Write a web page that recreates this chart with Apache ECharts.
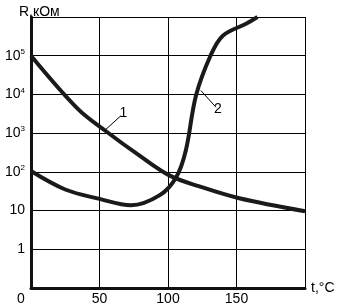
<!DOCTYPE html>
<html><head><meta charset="utf-8">
<script src="https://cdn.jsdelivr.net/npm/echarts@6/dist/echarts.min.js"></script>
<style>html,body{margin:0;padding:0;background:#fff}#c{width:338px;height:308px}</style>
</head><body><div id="c"></div>
<script>
// Curve 1
var t1 = [0, 34, 54, 79, 101, 123, 152, 200];
var r1 = [100000, 4300, 1170, 266, 81, 42, 20.8, 9.6];
// Curve 2
var t2 = [0, 25, 50, 73, 94, 106, 113, 120.4, 131, 140, 157, 165.3];
var r2 = [105, 35, 20, 13.7, 25, 73, 358, 9300, 100000, 330000, 670000, 1000000];
// annotation leaders [t, R]
var lead1 = [[53.7, 1170], [65.8, 2850]];
var lead2 = [[124, 12600], [135, 4670]];
var xTicks = [0, 50, 100, 150, 200];
var yName = 'R,кОм';
var xName = 't,°C';

function pairs(a, b) { return a.map(function (v, i) { return [v, b[i]]; }); }
var FONT = 'Liberation Sans, Arial, sans-serif';
var chart = echarts.init(document.getElementById('c'));
function leader(pts, txt) {
  return {
    silent: true, symbol: 'none', animation: false,
    lineStyle: { color: '#000', width: 1, type: 'solid' },
    label: { show: true, formatter: txt, position: 'end', distance: 3, color: '#000', fontSize: 14, fontFamily: FONT },
    data: [[{ coord: pts[0] }, { coord: pts[1] }]]
  };
}
chart.setOption({
  animation: false,
  title: { text: yName, left: 14, top: 0, textStyle: { fontSize: 14, fontWeight: 'normal', color: '#000', fontFamily: FONT } },
  grid: { left: 31, top: 17, right: 33, bottom: 20 },
  xAxis: {
    type: 'value', min: 0, max: 200, interval: 50,
    name: xName, nameLocation: 'end', nameGap: 6,
    nameTextStyle: { fontSize: 14, color: '#000', fontFamily: FONT, verticalAlign: 'middle', padding: [6, 0, 0, 0] },
    axisLine: { show: true, lineStyle: { color: '#111', width: 3 } },
    axisTick: { show: false },
    axisLabel: {
      color: '#000', fontSize: 14, fontFamily: FONT, margin: 4,
      formatter: function (v) { if (v === 200) return ''; return v === 0 ? '{z|0}' : String(v); },
      rich: { z: { fontSize: 14, fontFamily: FONT, color: '#000', padding: [0, 20, 0, 0] } },
      showMaxLabel: true, showMinLabel: true
    },
    splitLine: { show: true, lineStyle: { color: '#000', width: 1 } }
  },
  yAxis: {
    type: 'log', logBase: 10, min: 0.1, max: 1000000, interval: 1,
    axisLine: { show: true, onZero: false, lineStyle: { color: '#111', width: 3 } },
    axisTick: { show: false },
    axisLabel: {
      color: '#000', fontSize: 14, fontFamily: FONT, margin: 6,
      formatter: function (v) {
        var e = Math.round(Math.log10(v));
        if (e < 0 || e > 5) return '';
        if (e === 0) return '1';
        if (e === 1) return '10';
        return '10{s|' + e + '}';
      },
      rich: { s: { fontSize: 8, fontFamily: FONT, color: '#000', padding: [0, 0, 8, 0] } }
    },
    splitLine: { show: true, lineStyle: { color: '#000', width: 1 } }
  },
  series: [
    { type: 'line', data: pairs(t1, r1), smooth: 0.35, showSymbol: false, symbol: 'none',
      lineStyle: { color: '#1a1a1a', width: 4 }, markLine: leader(lead1, '1') },
    { type: 'line', data: pairs(t2, r2), smooth: 0.35, showSymbol: false, symbol: 'none',
      lineStyle: { color: '#1a1a1a', width: 4 }, markLine: leader(lead2, '2') }
  ]
});
</script></body></html>
